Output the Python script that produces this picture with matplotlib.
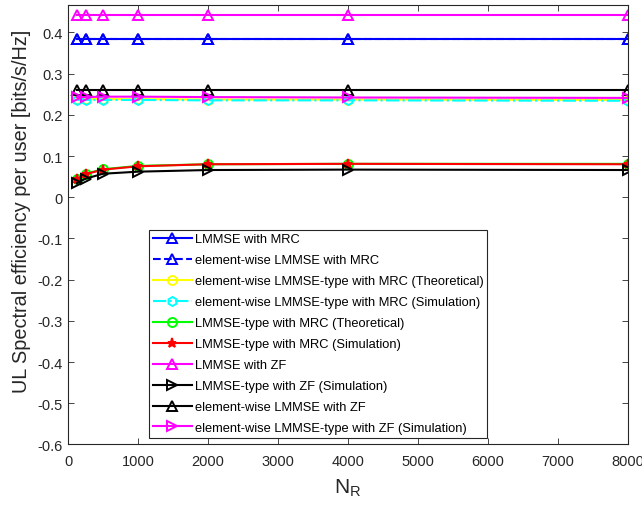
import matplotlib
matplotlib.use("Agg")
import matplotlib.pyplot as plt
import numpy as np

plt.rcParams['font.family'] = ['Liberation Sans', 'DejaVu Sans']
plt.rcParams['mathtext.fontset'] = 'custom'
plt.rcParams['mathtext.rm'] = 'Liberation Sans'

N_R = [125, 250, 500, 1000, 2000, 4000, 8000]

lmmse_mrc = [0.385, 0.385, 0.385, 0.385, 0.385, 0.385, 0.385]
ew_lmmse_mrc = [0.385, 0.385, 0.385, 0.385, 0.385, 0.385, 0.385]
ew_type_mrc_theo = [0.238, 0.238, 0.238, 0.238, 0.237, 0.237, 0.236]
ew_type_mrc_sim = [0.236, 0.236, 0.236, 0.236, 0.235, 0.235, 0.234]
type_mrc_theo = [0.045, 0.057, 0.068, 0.076, 0.080, 0.081, 0.081]
type_mrc_sim = [0.044, 0.056, 0.067, 0.075, 0.080, 0.081, 0.080]
lmmse_zf = [0.441, 0.441, 0.441, 0.441, 0.441, 0.441, 0.441]
type_zf_sim = [0.034, 0.045, 0.057, 0.062, 0.066, 0.067, 0.066]
ew_lmmse_zf = [0.260, 0.260, 0.260, 0.260, 0.260, 0.260, 0.260]
ew_type_zf_sim = [0.243, 0.243, 0.244, 0.244, 0.243, 0.242, 0.241]

labels = [
    "LMMSE with MRC",
    "element-wise LMMSE with MRC",
    "element-wise LMMSE-type with MRC (Theoretical)",
    "element-wise LMMSE-type with MRC (Simulation)",
    "LMMSE-type with MRC (Theoretical)",
    "LMMSE-type with MRC (Simulation)",
    "LMMSE with ZF",
    "LMMSE-type with ZF (Simulation)",
    "element-wise LMMSE with ZF",
    "element-wise LMMSE-type with ZF (Simulation)",
]

fig = plt.figure(figsize=(6.42, 5.06), dpi=100)
ax = fig.add_axes([0.106, 0.1196, 0.872, 0.869])

lw = 1.5
ms = 6.5
mew = 1.4
ax.plot(N_R, lmmse_mrc, '-', color='#0000ff', marker='^', mfc='none', ms=ms, mew=mew, lw=lw, label=labels[0])
ax.plot(N_R, ew_lmmse_mrc, '--', color='#0000ff', marker='^', mfc='none', ms=ms, mew=mew, lw=lw, label=labels[1])
ax.plot(N_R, ew_type_mrc_theo, '-', color='#ffff00', marker='o', mfc='none', ms=ms, mew=mew, lw=lw, label=labels[2])
ax.plot(N_R, ew_type_mrc_sim, '-.', color='#00ffff', marker='h', mfc='none', ms=ms, mew=mew, lw=lw, label=labels[3])
ax.plot(N_R, type_mrc_theo, '-', color='#00ff00', marker='o', mfc='none', ms=ms, mew=mew, lw=lw, label=labels[4])
ax.plot(N_R, type_mrc_sim, '-', color='#ff0000', marker='*', ms=ms, mew=mew, lw=lw, label=labels[5])
ax.plot(N_R, lmmse_zf, '-', color='#ff00ff', marker='^', mfc='none', ms=ms, mew=mew, lw=lw, label=labels[6])
ax.plot(N_R, type_zf_sim, '-', color='#000000', marker='>', mfc='none', ms=ms, mew=mew, lw=lw, label=labels[7])
ax.plot(N_R, ew_lmmse_zf, '-', color='#000000', marker='^', mfc='none', ms=ms, mew=mew, lw=lw, label=labels[8])
ax.plot(N_R, ew_type_zf_sim, '-', color='#ff00ff', marker='>', mfc='none', ms=ms, mew=mew, lw=lw, label=labels[9])

ax.set_xlim(0, 8000)
ax.set_ylim(-0.6, 0.467)
ax.set_xticks(np.arange(0, 8001, 1000))
yt = np.round(np.arange(-0.6, 0.41, 0.1), 1)
ax.set_yticks(yt)
ax.set_yticklabels(['0' if v == 0 else f'{v:g}' for v in yt])
ax.tick_params(direction='in', top=True, right=True, labelsize=10.5, length=4, width=0.6, colors='#262626')
ax.tick_params(axis='x', pad=7)
ax.tick_params(axis='y', pad=4)
for s in ax.spines.values():
    s.set_linewidth(0.8)
    s.set_color('#262626')

ax.set_xlabel(r'N$_\mathregular{R}$', fontsize=15, color='#262626', labelpad=6)
ax.set_ylabel('UL Spectral efficiency per user [bits/s/Hz]', fontsize=14.3, color='#262626')
ax.yaxis.set_label_coords(-0.067, 0.533)

leg = ax.legend(loc='lower left', bbox_to_anchor=(0.1446, 0.015), fontsize=9.3,
                handlelength=3.0, handletextpad=0.25, labelspacing=0.69, borderpad=0.3,
                borderaxespad=0.0, fancybox=False, framealpha=1, edgecolor='#262626')
leg.get_frame().set_linewidth(0.8)

fig.savefig('out.png', dpi=100)
